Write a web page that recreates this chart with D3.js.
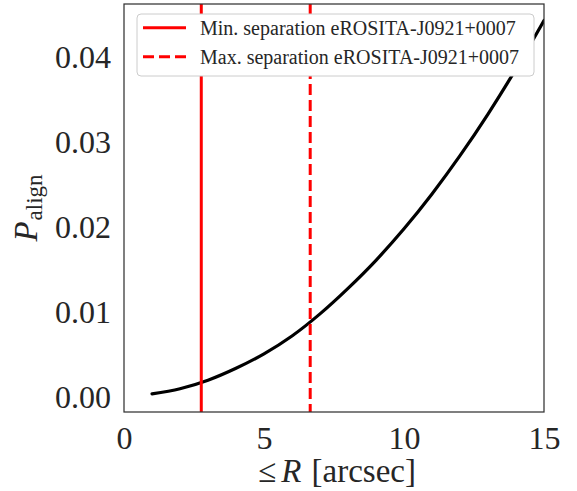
<!DOCTYPE html>
<html>
<head>
<meta charset="utf-8">
<script src="https://cdn.jsdelivr.net/npm/d3@7"></script>
<style>
  html, body { margin: 0; padding: 0; background: #fff; }
  svg { display: block; font-family: "Liberation Serif", "DejaVu Serif", serif; }
</style>
</head>
<body>
<svg id="chart" width="577" height="491"></svg>
<script>
// Data
const radius = [1, 2, 3, 4, 5, 6, 7, 8, 9, 10, 11, 12, 13, 14, 15];
const pAlign = [0.0004, 0.0010, 0.0020, 0.0034, 0.0051, 0.0072, 0.0098, 0.0128, 0.0161, 0.0198, 0.0239, 0.0284, 0.0333, 0.0386, 0.0443];
const minSeparation = 2.76;
const maxSeparation = 6.65;
const xTicks = [0, 5, 10, 15];
const yTicks = [0.00, 0.01, 0.02, 0.03, 0.04];
const legendLabels = ["Min. separation eROSITA-J0921+0007", "Max. separation eROSITA-J0921+0007"];

const svg = d3.select("#chart");
const m = { left: 124, right: 544, top: 4, bottom: 412 };
const textColor = "#262626";

const x = d3.scaleLinear().domain([0, 15]).range([m.left, m.right]);
const y = d3.scaleLinear().domain([-0.00174, 0.04624]).range([m.bottom, m.top]);

svg.append("defs").append("clipPath").attr("id", "clip")
  .append("rect").attr("x", m.left).attr("y", m.top)
  .attr("width", m.right - m.left).attr("height", m.bottom - m.top);

const plot = svg.append("g").attr("clip-path", "url(#clip)");

// curve
const line = d3.line().x((d, i) => x(radius[i])).y(d => y(d)).curve(d3.curveMonotoneX);
plot.append("path").datum(pAlign)
  .attr("d", line).attr("fill", "none").attr("stroke", "#000")
  .attr("stroke-width", 3.2).attr("stroke-linecap", "round");

// vertical lines
plot.append("line")
  .attr("x1", x(minSeparation)).attr("x2", x(minSeparation))
  .attr("y1", m.top).attr("y2", m.bottom)
  .attr("stroke", "#ff0000").attr("stroke-width", 3);
plot.append("line")
  .attr("x1", x(maxSeparation)).attr("x2", x(maxSeparation))
  .attr("y1", m.top).attr("y2", m.bottom)
  .attr("stroke", "#ff0000").attr("stroke-width", 3)
  .attr("stroke-dasharray", "11,5");

// axes (no tick marks, only labels)
const xAxis = d3.axisBottom(x).tickValues(xTicks).tickSize(0).tickPadding(0).tickFormat(d3.format("d"));
const gx = svg.append("g").attr("transform", `translate(0,${m.bottom})`).call(xAxis);
gx.select(".domain").remove();
gx.selectAll("text").attr("y", 37).attr("dy", null)
  .attr("font-size", 32).attr("fill", textColor)
  .attr("font-family", "Liberation Serif, serif");

const yAxis = d3.axisLeft(y).tickValues(yTicks).tickSize(0).tickPadding(0).tickFormat(d3.format(".2f"));
const gy = svg.append("g").attr("transform", `translate(${m.left},0)`).call(yAxis);
gy.select(".domain").remove();
gy.selectAll("text").attr("x", -13).attr("dy", "10.5")
  .attr("font-size", 32).attr("fill", textColor)
  .attr("font-family", "Liberation Serif, serif");

// frame
svg.append("rect").attr("x", m.left).attr("y", m.top)
  .attr("width", m.right - m.left).attr("height", m.bottom - m.top)
  .attr("fill", "none").attr("stroke", "#333").attr("stroke-width", 1.25);

// legend
const lg = svg.append("g");
lg.append("rect").attr("x", 137).attr("y", 14).attr("width", 397).attr("height", 62)
  .attr("rx", 4).attr("fill", "#fff").attr("stroke", "#cccccc").attr("stroke-width", 1);
legendLabels.forEach((lab, i) => {
  const yy = 27.7 + i * 29;
  const l = lg.append("line").attr("x1", 143).attr("x2", 186).attr("y1", yy).attr("y2", yy)
    .attr("stroke", "#ff0000").attr("stroke-width", 3);
  if (i === 1) l.attr("stroke-dasharray", "11,5");
  lg.append("text").attr("x", 200).attr("y", yy + 7)
    .attr("font-size", 20).attr("fill", textColor).text(lab);
});

// x label
const xl = svg.append("text").attr("x", (m.left + m.right) / 2 + 3).attr("y", 482)
  .attr("text-anchor", "middle").attr("font-size", 33).attr("fill", textColor);
xl.append("tspan").text("≤");
xl.append("tspan").attr("dx", 5).attr("font-style", "italic").text("R");
xl.append("tspan").attr("dx", 2).text(" [arcsec]");

// y label
const yl = svg.append("text")
  .attr("transform", `translate(37,208) rotate(-90)`)
  .attr("text-anchor", "middle").attr("font-size", 33).attr("fill", textColor);
yl.append("tspan").attr("font-style", "italic").text("P");
yl.append("tspan").attr("font-size", 23).attr("dy", 5).attr("dx", 1).text("align");
</script>
</body>
</html>
